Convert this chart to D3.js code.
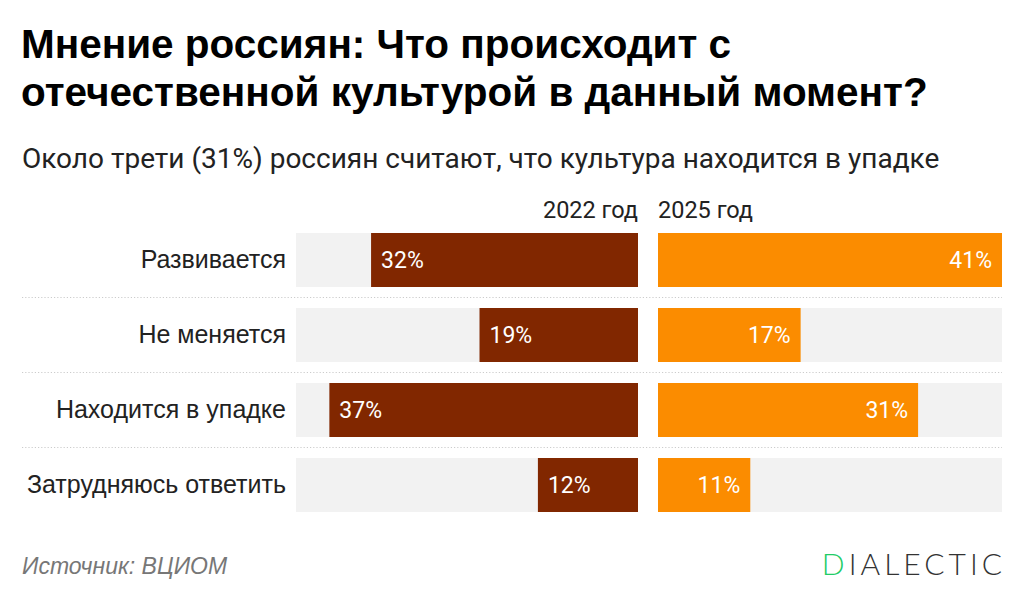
<!DOCTYPE html>
<html>
<head>
<meta charset="utf-8">
<script src="https://cdn.jsdelivr.net/npm/d3@7"></script>
<style>
  body { margin: 0; background: #fff; }
  svg { display: block; }
</style>
</head>
<body>
<svg id="chart" width="1024" height="609"></svg>
<script>
const categories = ["Развивается", "Не меняется", "Находится в упадке", "Затрудняюсь ответить"];
const values2022 = [32, 19, 37, 12];
const values2025 = [41, 17, 31, 11];
const seriesLabels = ["2022 год", "2025 год"];
const titleLines = ["Мнение россиян: Что происходит с", "отечественной культурой в данный момент?"];
const subtitle = "Около трети (31%) россиян считают, что культура находится в упадке";
const source = "Источник: ВЦИОМ";

const colorLeft = "#812700";
const colorRight = "#fb8c00";
const trackColor = "#f2f2f2";
const sans = "'Liberation Sans', Arial, Helvetica, sans-serif";
const roboto = "Roboto, sans-serif";

const svg = d3.select("#chart");

// title + subtitle
svg.selectAll(".title")
  .data(titleLines)
  .enter()
  .append("text")
  .attr("class", "title")
  .attr("x", 21)
  .attr("y", function (d, i) { return 58 + i * 48; })
  .attr("font-family", sans)
  .attr("font-weight", "bold")
  .attr("font-size", 40.5)
  .attr("fill", "#000")
  .text(function (d) { return d; });

svg.append("text")
  .attr("x", 22)
  .attr("y", 168)
  .attr("font-family", roboto)
  .attr("font-size", 28)
  .attr("fill", "#222")
  .text(subtitle);

// scales
const y = d3.scaleBand()
  .domain(categories)
  .range([233, 512])
  .paddingInner(0.28)
  .paddingOuter(0);

const leftEnd = 638;
const xLeft = d3.scaleLinear().domain([0, 41]).range([0, 342]);
const xRight = d3.scaleLinear().domain([0, 41]).range([658, 1002]);

// column headers
svg.append("text")
  .attr("x", leftEnd)
  .attr("y", 218)
  .attr("text-anchor", "end")
  .attr("font-family", roboto)
  .attr("font-size", 23.5)
  .attr("fill", "#222")
  .text(seriesLabels[0]);

svg.append("text")
  .attr("x", xRight(0))
  .attr("y", 218)
  .attr("font-family", roboto)
  .attr("font-size", 23.5)
  .attr("fill", "#222")
  .text(seriesLabels[1]);

// dotted separators between rows
svg.selectAll(".sep")
  .data(categories.slice(1))
  .enter()
  .append("line")
  .attr("class", "sep")
  .attr("x1", 22)
  .attr("x2", 1002)
  .attr("y1", function (d) { return y(d) - (y.step() - y.bandwidth()) / 2; })
  .attr("y2", function (d) { return y(d) - (y.step() - y.bandwidth()) / 2; })
  .attr("stroke", "#ccc")
  .attr("stroke-width", 1.2)
  .attr("stroke-dasharray", "1.2,2");

// category labels
svg.selectAll(".cat")
  .data(categories)
  .enter()
  .append("text")
  .attr("class", "cat")
  .attr("x", 286)
  .attr("y", function (d) { return y(d) + y.bandwidth() / 2; })
  .attr("dy", "0.33em")
  .attr("text-anchor", "end")
  .attr("font-family", sans)
  .attr("font-size", 25)
  .attr("fill", "#222")
  .text(function (d) { return d; });

// tracks
svg.selectAll(".trackL")
  .data(categories)
  .enter()
  .append("rect")
  .attr("x", leftEnd - xLeft(41))
  .attr("y", function (d) { return y(d); })
  .attr("width", xLeft(41))
  .attr("height", y.bandwidth())
  .attr("fill", trackColor);

svg.selectAll(".trackR")
  .data(categories)
  .enter()
  .append("rect")
  .attr("x", xRight(0))
  .attr("y", function (d) { return y(d); })
  .attr("width", xRight(41) - xRight(0))
  .attr("height", y.bandwidth())
  .attr("fill", trackColor);

// 2022 bars, growing leftwards
svg.selectAll(".barL")
  .data(values2022)
  .enter()
  .append("rect")
  .attr("class", "barL")
  .attr("x", function (d) { return leftEnd - xLeft(d); })
  .attr("y", function (d, i) { return y(categories[i]); })
  .attr("width", function (d) { return xLeft(d); })
  .attr("height", y.bandwidth())
  .attr("fill", colorLeft);

svg.selectAll(".valL")
  .data(values2022)
  .enter()
  .append("text")
  .attr("x", function (d) { return leftEnd - xLeft(d) + 10; })
  .attr("y", function (d, i) { return y(categories[i]) + y.bandwidth() / 2; })
  .attr("dy", "0.36em")
  .attr("font-family", roboto)
  .attr("font-size", 23)
  .attr("fill", "#fff")
  .text(function (d) { return d + "%"; });

// 2025 bars
svg.selectAll(".barR")
  .data(values2025)
  .enter()
  .append("rect")
  .attr("class", "barR")
  .attr("x", xRight(0))
  .attr("y", function (d, i) { return y(categories[i]); })
  .attr("width", function (d) { return xRight(d) - xRight(0); })
  .attr("height", y.bandwidth())
  .attr("fill", colorRight);

svg.selectAll(".valR")
  .data(values2025)
  .enter()
  .append("text")
  .attr("x", function (d) { return xRight(d) - 10; })
  .attr("y", function (d, i) { return y(categories[i]) + y.bandwidth() / 2; })
  .attr("dy", "0.36em")
  .attr("text-anchor", "end")
  .attr("font-family", roboto)
  .attr("font-size", 23)
  .attr("fill", "#fff")
  .text(function (d) { return d + "%"; });

// footer
svg.append("text")
  .attr("x", 22)
  .attr("y", 574)
  .attr("font-family", sans)
  .attr("font-style", "italic")
  .attr("font-size", 23)
  .attr("fill", "#777")
  .text(source);

const logo = svg.append("text")
  .attr("x", 1006)
  .attr("y", 575)
  .attr("text-anchor", "end")
  .attr("font-family", "Lato, sans-serif")
  .attr("font-weight", 300)
  .attr("font-size", 30)
  .attr("letter-spacing", 4)
  .attr("fill", "#333");

logo.append("tspan").attr("fill", "#22cc66").text("D");
logo.append("tspan").text("IALECTIC");
</script>
</body>
</html>
